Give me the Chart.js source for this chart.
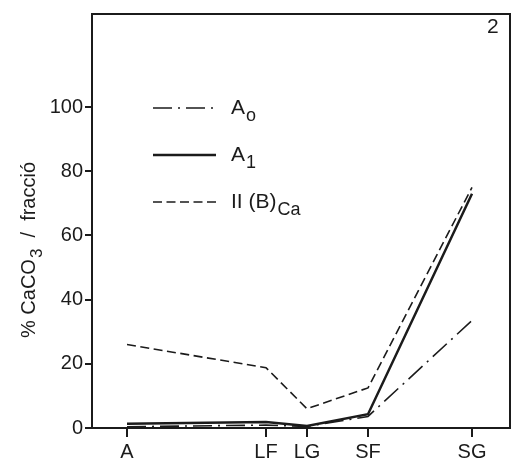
<!DOCTYPE html>
<html lang="en">
<head>
<meta charset="UTF-8">
<title>CaCO3 per fracció</title>
<script src="https://cdn.jsdelivr.net/npm/chart.js"></script>
<style>
  html, body { margin: 0; padding: 0; background: #fff; }
  #wrap { width: 513px; height: 468px; }
</style>
</head>
<body>
<div id="wrap"><canvas id="chart"></canvas></div>
<script>
// fractions and where they sit along the x axis
const categories = ['A', 'LF', 'LG', 'SF', 'SG'];
const xPositions = [3.5, 17.4, 21.5, 27.6, 38.0];
const yTicks = [0, 20, 40, 60, 80, 100];

// % CaCO3 per fraction
const seriesA0 = [0.4, 0.9, 0.5, 3.6, 33.5];
const seriesA1 = [1.3, 1.9, 0.6, 4.3, 73];
const seriesB = [26, 18.8, 6, 12.5, 75];

const legendMain = ['A', 'A', 'II (B)'];
const legendSub = ['o', '1', 'Ca'];

const ink = '#1b1b1b';
const font = '"Liberation Sans", Arial, sans-serif';

function points(vals) {
  return vals.map((v, i) => ({ x: xPositions[i], y: v }));
}

// draw text with a lowered subscript, returns end x
function subText(ctx, x, y, main, sub, size) {
  ctx.font = size + 'px ' + font;
  ctx.fillText(main, x, y);
  let w = ctx.measureText(main).width;
  ctx.font = Math.round(size * 0.85) + 'px ' + font;
  ctx.fillText(sub, x + w + 1, y + size * 0.4);
  return x + w + 1 + ctx.measureText(sub).width;
}

const decor = {
  id: 'decor',
  afterDraw(chart) {
    const ctx = chart.ctx;
    const a = chart.chartArea;
    ctx.save();
    // box around the plot
    ctx.strokeStyle = ink;
    ctx.lineWidth = 2;
    ctx.strokeRect(a.left, a.top, a.right - a.left, a.bottom - a.top);

    ctx.fillStyle = ink;
    ctx.textBaseline = 'middle';
    ctx.font = '21px ' + font;
    ctx.fillText('2', 487, 27);

    // legend
    const rows = [108, 155, 202];
    chart.data.datasets.forEach((ds, i) => {
      ctx.beginPath();
      ctx.setLineDash(ds.borderDash || []);
      ctx.lineWidth = ds.borderWidth;
      ctx.strokeStyle = ds.borderColor;
      ctx.moveTo(153, rows[i]);
      ctx.lineTo(216, rows[i]);
      ctx.stroke();
      ctx.setLineDash([]);
      subText(ctx, 231, rows[i], legendMain[i], legendSub[i], 21);
    });

    // y axis title
    ctx.translate(29, 232);
    ctx.rotate(-Math.PI / 2);
    ctx.textBaseline = 'middle';
    let x = -106;
    x = subText(ctx, x, 0, '% CaCO', '3', 20);
    ctx.font = '20px ' + font;
    ctx.fillText('  /  fracció', x, 0);
    ctx.restore();
  }
};

new Chart(document.getElementById('chart'), {
  type: 'line',
  data: {
    datasets: [
      { label: 'A0', data: points(seriesA0), borderColor: ink, borderWidth: 1.6, borderDash: [19, 6, 2, 6] },
      { label: 'A1', data: points(seriesA1), borderColor: ink, borderWidth: 2.5 },
      { label: 'II (B)Ca', data: points(seriesB), borderColor: ink, borderWidth: 1.6, borderDash: [9, 4.5] }
    ]
  },
  options: {
    responsive: true,
    maintainAspectRatio: false,
    animation: false,
    devicePixelRatio: 1,
    layout: { padding: { left: 0, top: 14, right: 3, bottom: 0 } },
    elements: {
      point: { radius: 0 },
      line: { tension: 0, fill: false }
    },
    plugins: {
      legend: { display: false },
      tooltip: { enabled: false }
    },
    scales: {
      x: {
        type: 'linear',
        min: 0,
        max: 41.8,
        afterBuildTicks: s => { s.ticks = xPositions.map(v => ({ value: v })); },
        afterFit: s => { s.height = 40; },
        grid: { drawOnChartArea: false, drawTicks: true, tickLength: 9, color: ink, lineWidth: 2 },
        border: { display: true, color: ink, width: 2 },
        ticks: {
          color: ink,
          font: { family: font, size: 20 },
          padding: 3,
          maxRotation: 0,
          autoSkip: false,
          callback: (v, i) => categories[i]
        }
      },
      y: {
        min: 0,
        max: 129,
        afterBuildTicks: s => { s.ticks = yTicks.map(v => ({ value: v })); },
        afterFit: s => { s.width = 92; },
        grid: { drawOnChartArea: false, drawTicks: true, tickLength: 7, color: ink, lineWidth: 2 },
        border: { display: true, color: ink, width: 2 },
        ticks: {
          color: ink,
          font: { family: font, size: 20 },
          padding: 2
        }
      }
    }
  },
  plugins: [decor]
});
</script>
</body>
</html>
